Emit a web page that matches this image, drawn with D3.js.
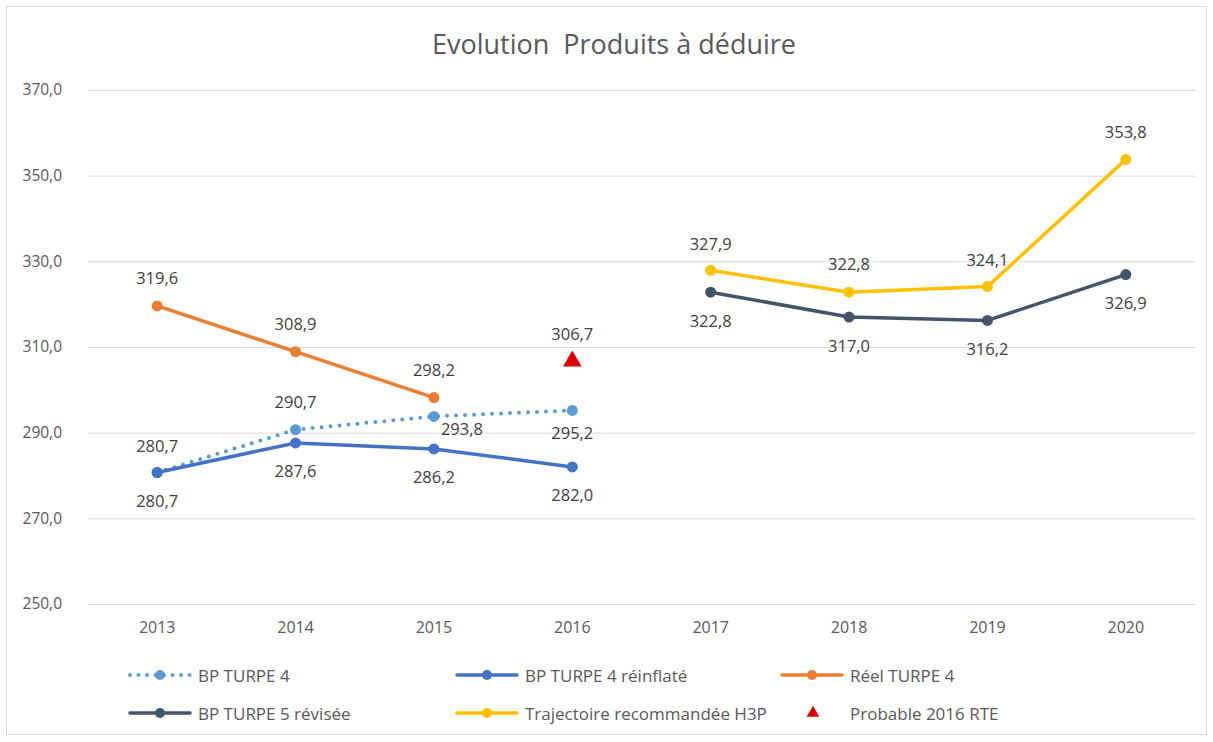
<!DOCTYPE html>
<html>
<head>
<meta charset="utf-8">
<script src="https://cdn.jsdelivr.net/npm/d3@7"></script>
<style>
  html, body { margin: 0; padding: 0; background: #fff; }
  svg { display: block; font-family: "Open Sans", "Noto Sans", sans-serif; }
</style>
</head>
<body>
<svg id="chart" width="1213" height="742"></svg>
<script>
// Years on the horizontal axis
const years = ["2013", "2014", "2015", "2016", "2017", "2018", "2019", "2020"];
const yTicks = [250, 270, 290, 310, 330, 350, 370];

// Series values (M€); null = no value for that year
const bpTurpe4 = [280.7, 290.7, 293.8, 295.2, null, null, null, null];
const bpTurpe4Reinflate = [280.7, 287.6, 286.2, 282.0, null, null, null, null];
const reelTurpe4 = [319.6, 308.9, 298.2, null, null, null, null, null];
const bpTurpe5Revisee = [null, null, null, null, 322.8, 317.0, 316.2, 326.9];
const trajectoireH3P = [null, null, null, null, 327.9, 322.8, 324.1, 353.8];
const probable2016 = [null, null, null, 306.7, null, null, null, null];

const seriesNames = ["BP TURPE 4", "BP TURPE 4 réinflaté", "Réel TURPE 4",
  "BP TURPE 5 révisée", "Trajectoire recommandée H3P", "Probable 2016 RTE"];

const FONT = "'Open Sans', 'Noto Sans', sans-serif";
const svg = d3.select("#chart");

const fmt = v => d3.format(".1f")(v).replace(".", ",");
const textColor = "#595959";
const labelSize = 16.5;

// chart frame
svg.append("rect").attr("x", 6.5).attr("y", 6.5).attr("width", 1200).attr("height", 728)
  .attr("fill", "#fff").attr("stroke", "#d9d9d9").attr("stroke-width", 1);

// title
svg.append("text").attr("x", 614).attr("y", 54).attr("text-anchor", "middle")
  .attr("font-size", 27).attr("fill", textColor).attr("xml:space", "preserve")
  .text("Evolution  Produits à déduire");

const x = d3.scaleBand().domain(years).range([88, 1195]).padding(0);
const cx = d => x(d) + x.bandwidth() / 2;
const y = d3.scaleLinear().domain([250, 370]).range([604, 90]);

// gridlines + y axis labels
const yAxis = d3.axisLeft(y).tickValues(yTicks).tickSize(-(1195 - 88)).tickPadding(26)
  .tickFormat(fmt);
const gy = svg.append("g").attr("transform", "translate(88,0)").call(yAxis);
gy.select(".domain").remove();
gy.selectAll(".tick line").attr("stroke", "#d9d9d9").attr("stroke-width", 1);
gy.selectAll(".tick text").attr("fill", textColor).attr("font-size", 15.5)
  .attr("font-family", FONT);

// x axis labels
const xAxis = d3.axisBottom(x).tickSize(0).tickPadding(18);
const gx = svg.append("g").attr("transform", "translate(0,604)").call(xAxis);
gx.select(".domain").remove();
gx.selectAll(".tick text").attr("fill", textColor).attr("font-size", 16)
  .attr("font-family", FONT);

// line series
const lineSeries = [
  { name: seriesNames[0], values: bpTurpe4, color: "#5B9BD5", dotted: true },
  { name: seriesNames[1], values: bpTurpe4Reinflate, color: "#4472C4" },
  { name: seriesNames[2], values: reelTurpe4, color: "#ED7D31" },
  { name: seriesNames[3], values: bpTurpe5Revisee, color: "#44546A" },
  { name: seriesNames[4], values: trajectoireH3P, color: "#FFC000" }
];

// data label offsets (dx, dy) per series and point
const labelOffsets = {
  "BP TURPE 4": [[0, -27], [0, -28], [28, 12], [0, 22]],
  "BP TURPE 4 réinflaté": [[0, 28], [0, 28], [0, 28], [0, 28]],
  "Réel TURPE 4": [[0, -28], [0, -28], [0, -28]],
  "BP TURPE 5 révisée": [[0, 28], [0, 28], [0, 28], [0, 28]],
  "Trajectoire recommandée H3P": [[0, -27], [0, -29], [0, -27], [0, -28]],
  "Probable 2016 RTE": [[0, -28]]
};

const line = d3.line().defined(d => d.v != null).x(d => cx(d.year)).y(d => y(d.v));

const drawOrder = [2, 0, 1, 3, 4];
drawOrder.forEach(i => {
  const s = lineSeries[i];
  const pts = years.map((yr, k) => ({ year: yr, v: s.values[k] }));
  const g = svg.append("g");
  const path = g.append("path").datum(pts).attr("d", line).attr("fill", "none")
    .attr("stroke", s.color).attr("stroke-width", s.dotted ? 4 : 3.5)
    .attr("stroke-linejoin", "round").attr("stroke-linecap", "round");
  if (s.dotted) path.attr("stroke-dasharray", "0 9");
  const valid = pts.filter(d => d.v != null);
  g.selectAll("circle").data(valid).join("circle")
    .attr("cx", d => cx(d.year)).attr("cy", d => y(d.v)).attr("r", 5.5)
    .attr("fill", s.color);
});

// data labels
const labelG = svg.append("g");
lineSeries.forEach(s => {
  const valid = years.map((yr, k) => ({ year: yr, v: s.values[k] })).filter(d => d.v != null);
  const offs = labelOffsets[s.name];
  valid.forEach((d, k) => {
    labelG.append("text").attr("x", cx(d.year) + offs[k][0]).attr("y", y(d.v) + offs[k][1])
      .attr("text-anchor", "middle").attr("dominant-baseline", "central")
      .attr("font-size", labelSize).attr("fill", "#404040").text(fmt(d.v));
  });
});

// triangle marker
const tri = d3.symbol().type(d3.symbolTriangle).size(150);
const probPts = years.map((yr, k) => ({ year: yr, v: probable2016[k] })).filter(d => d.v != null);
probPts.forEach((d, k) => {
  svg.append("path").attr("d", tri).attr("transform", `translate(${cx(d.year)},${y(d.v)})`)
    .attr("fill", "#E00000");
  const o = labelOffsets["Probable 2016 RTE"][k];
  labelG.append("text").attr("x", cx(d.year) + o[0]).attr("y", y(d.v) + o[1])
    .attr("text-anchor", "middle").attr("dominant-baseline", "central")
    .attr("font-size", labelSize).attr("fill", "#404040").text(fmt(d.v));
});

// legend
const legendItems = [
  { name: seriesNames[0], color: "#5B9BD5", kind: "dotted", x: 130, y: 675 },
  { name: seriesNames[1], color: "#4472C4", kind: "line", x: 457, y: 675 },
  { name: seriesNames[2], color: "#ED7D31", kind: "line", x: 782, y: 675 },
  { name: seriesNames[3], color: "#44546A", kind: "line", x: 130, y: 713 },
  { name: seriesNames[4], color: "#FFC000", kind: "line", x: 457, y: 713 },
  { name: seriesNames[5], color: "#E00000", kind: "triangle", x: 782, y: 713 }
];
const lg = svg.append("g");
legendItems.forEach(it => {
  const g = lg.append("g").attr("transform", `translate(${it.x},${it.y})`);
  if (it.kind === "triangle") {
    g.append("path").attr("d", d3.symbol().type(d3.symbolTriangle).size(70))
      .attr("transform", "translate(31,0)").attr("fill", it.color);
    g.append("text").attr("x", 68).attr("y", 0).attr("dominant-baseline", "central")
      .attr("font-size", 17).attr("fill", textColor).text(it.name);
  } else {
    const ln = g.append("line").attr("x1", 0).attr("x2", 60).attr("y1", 0).attr("y2", 0)
      .attr("stroke", it.color).attr("stroke-linecap", "round");
    if (it.kind === "dotted") ln.attr("stroke-width", 4).attr("stroke-dasharray", "0 8.5");
    else ln.attr("stroke-width", 3.5);
    g.append("circle").attr("cx", 30).attr("cy", 0).attr("r", 5).attr("fill", it.color);
    g.append("text").attr("x", 68).attr("y", 0).attr("dominant-baseline", "central")
      .attr("font-size", 17).attr("fill", textColor).text(it.name);
  }
});
</script>
</body>
</html>
